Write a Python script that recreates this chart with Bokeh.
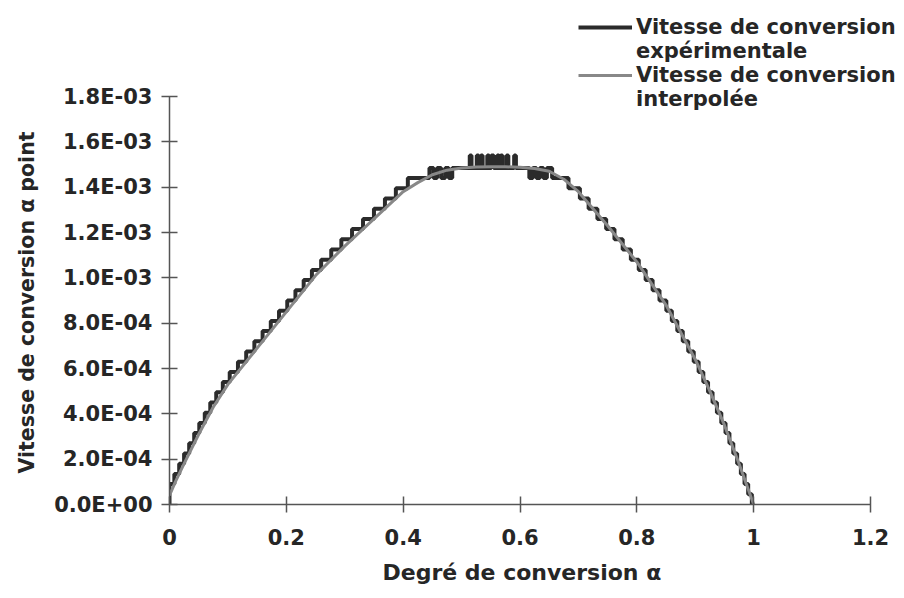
import numpy as np
from bokeh.plotting import figure
from bokeh.models import (Range1d, FixedTicker, CustomJSTickFormatter, Legend,
                          LegendItem, Title)
from bokeh.embed import file_html
from bokeh.resources import INLINE

# ---------------- data ----------------
# interpolated conversion rate (units of 1e-3)
alpha_interp = [0.0, 0.01, 0.025, 0.05, 0.075, 0.1, 0.15, 0.2, 0.25, 0.3, 0.35, 0.4,
                0.425, 0.45, 0.475, 0.5, 0.525, 0.55, 0.575, 0.6, 0.625, 0.65, 0.675,
                0.7, 0.75, 0.8, 0.85, 0.9, 0.925, 0.95, 0.975, 1.0]
rate_interp_e3 = [0.04, 0.10, 0.18, 0.31, 0.43, 0.53, 0.69, 0.85, 1.01, 1.14, 1.26, 1.38,
                  1.42, 1.455, 1.475, 1.485, 1.489, 1.49, 1.49, 1.488, 1.482, 1.47, 1.435,
                  1.38, 1.23, 1.07, 0.88, 0.64, 0.50, 0.35, 0.18, 0.0]

# experimental conversion rate (staircase, units of 1e-3)
alpha_exp = [0.0, 0.0, 0.0083, 0.0166, 0.025, 0.0337, 0.0423, 0.051, 0.0604, 0.0698,
             0.08, 0.0913, 0.1031, 0.1172, 0.1313, 0.1453, 0.1594, 0.1734, 0.1875,
             0.2016, 0.2156, 0.2297, 0.2438, 0.2596, 0.2769, 0.2942, 0.3125, 0.3313,
             0.35, 0.3688, 0.3875, 0.408,
             0.445, 0.452, 0.458, 0.465, 0.472, 0.478, 0.484,
             0.514, 0.517, 0.526, 0.529, 0.533, 0.536, 0.544, 0.547, 0.551, 0.555,
             0.561, 0.564, 0.567, 0.570, 0.577, 0.580, 0.590, 0.593,
             0.616, 0.622, 0.628, 0.634, 0.640, 0.646, 0.655,
             0.683, 0.7025, 0.7175, 0.7325, 0.7475, 0.7617, 0.7758, 0.7898, 0.8033,
             0.8151, 0.827, 0.8388, 0.8505, 0.8599, 0.8693, 0.8786, 0.888, 0.8974,
             0.9058, 0.9138, 0.9219, 0.9296, 0.9371, 0.9446, 0.9518, 0.9585, 0.9651,
             0.9717, 0.9781, 0.9844, 0.9906, 0.9969, 1.0]
rate_exp_e3 = [0.0, 0.09, 0.135, 0.18, 0.225, 0.27, 0.315, 0.36, 0.405, 0.45,
               0.495, 0.54, 0.585, 0.63, 0.675, 0.72, 0.765, 0.81, 0.855,
               0.9, 0.945, 0.99, 1.035, 1.08, 1.125, 1.17, 1.215, 1.26,
               1.305, 1.35, 1.395, 1.44,
               1.485, 1.44, 1.485, 1.44, 1.485, 1.44, 1.485,
               1.54, 1.485, 1.54, 1.485, 1.54, 1.485, 1.54, 1.485, 1.54, 1.485,
               1.54, 1.485, 1.54, 1.485, 1.54, 1.485, 1.54, 1.485,
               1.44, 1.485, 1.44, 1.485, 1.44, 1.485, 1.44,
               1.395, 1.35, 1.305, 1.26, 1.215, 1.17, 1.125, 1.08, 1.035,
               0.99, 0.945, 0.9, 0.855, 0.81, 0.765, 0.72, 0.675, 0.63,
               0.585, 0.54, 0.495, 0.45, 0.405, 0.36, 0.315, 0.27, 0.225,
               0.18, 0.135, 0.09, 0.045, 0.0, 0.0]

x_ticks = [0, 0.2, 0.4, 0.6, 0.8, 1.0, 1.2]
y_ticks = [0, 2e-4, 4e-4, 6e-4, 8e-4, 1e-3, 1.2e-3, 1.4e-3, 1.6e-3, 1.8e-3]
x_axis_max = 1.2
y_axis_max = 1.8e-3

legend_labels = ["Vitesse de conversion", "expérimentale",
                 "Vitesse de conversion", "interpolée"]
x_title = "Degré de conversion α"
y_title = "Vitesse de conversion  α point"

# ---------------- figure ----------------
FONT = "DejaVu Sans"
TXT = "#262626"
AX = "#555555"

W, H = 904, 598
LEFT, BOTTOM = 169, 94
PX_X = 701 / 1.2          # pixels per unit alpha
PX_Y = 408 / 1.8e-3       # pixels per unit rate
frame_w = W - LEFT
frame_h = H - BOTTOM

p = figure(width=W, height=H, output_backend="svg", toolbar_location=None,
           x_range=Range1d(0, frame_w / PX_X), y_range=Range1d(0, frame_h / PX_Y),
           min_border_left=LEFT, min_border_right=0, min_border_top=0,
           min_border_bottom=BOTTOM)
p.outline_line_color = None
p.grid.visible = False
p.background_fill_color = "white"
p.border_fill_color = "white"

y_exp = np.array(rate_exp_e3) * 1e-3
y_int = np.array(rate_interp_e3) * 1e-3

r_exp = p.step(alpha_exp, y_exp, mode="after", line_color="#2b2b2b", line_width=4)
r_int = p.line(alpha_interp, y_int, line_color="#888888", line_width=3)
r_blank = p.line([0], [0], line_alpha=0)

# axes
for ax in (p.xaxis[0], p.yaxis[0]):
    ax.axis_line_color = AX
    ax.axis_line_width = 1.5
    ax.major_tick_line_color = AX
    ax.major_tick_line_width = 1.5
    ax.major_tick_in = 8
    ax.major_tick_out = 8
    ax.minor_tick_line_color = None
    ax.major_label_text_font = FONT
    ax.major_label_text_font_style = "bold"
    ax.major_label_text_font_size = "21px"
    ax.major_label_text_color = TXT

p.xaxis[0].bounds = (0, x_axis_max)
p.yaxis[0].bounds = (0, y_axis_max)
p.xaxis[0].ticker = FixedTicker(ticks=x_ticks)
p.yaxis[0].ticker = FixedTicker(ticks=y_ticks)
p.xaxis[0].formatter = CustomJSTickFormatter(
    code="return String(Math.round(tick*10)/10);")
p.yaxis[0].formatter = CustomJSTickFormatter(code="""
    const s = tick.toExponential(1);
    const parts = s.split('e');
    const e = parseInt(parts[1]);
    const sign = e < 0 ? '-' : '+';
    const d = String(Math.abs(e)).padStart(2, '0');
    return parts[0] + 'E' + sign + d;
""")
p.xaxis[0].major_label_standoff = 16
p.yaxis[0].major_label_standoff = 9

# axis titles
yt = Title(text=y_title, align="left", offset=31, standoff=25,
           text_font=FONT, text_font_style="bold", text_font_size="20.5px",
           text_color=TXT)
p.add_layout(yt, "left")
xt = Title(text=x_title, align="left", offset=213, standoff=20,
           text_font=FONT, text_font_style="bold", text_font_size="22px",
           text_color=TXT)
p.add_layout(xt, "below")

legend = Legend(items=[
    LegendItem(label=legend_labels[0], renderers=[r_exp]),
    LegendItem(label=legend_labels[1], renderers=[r_blank]),
    LegendItem(label=legend_labels[2], renderers=[r_int]),
    LegendItem(label=legend_labels[3], renderers=[r_blank]),
], location=(409, 393))
legend.label_text_font = FONT
legend.label_text_font_style = "bold"
legend.label_text_font_size = "21px"
legend.label_text_color = TXT
legend.glyph_width = 54
legend.glyph_height = 24
legend.label_height = 24
legend.spacing = 0
legend.padding = 0
legend.margin = 0
legend.label_standoff = 4
legend.border_line_color = None
legend.background_fill_alpha = 0
p.add_layout(legend)

open("out.html", "w").write(file_html(p, INLINE))
